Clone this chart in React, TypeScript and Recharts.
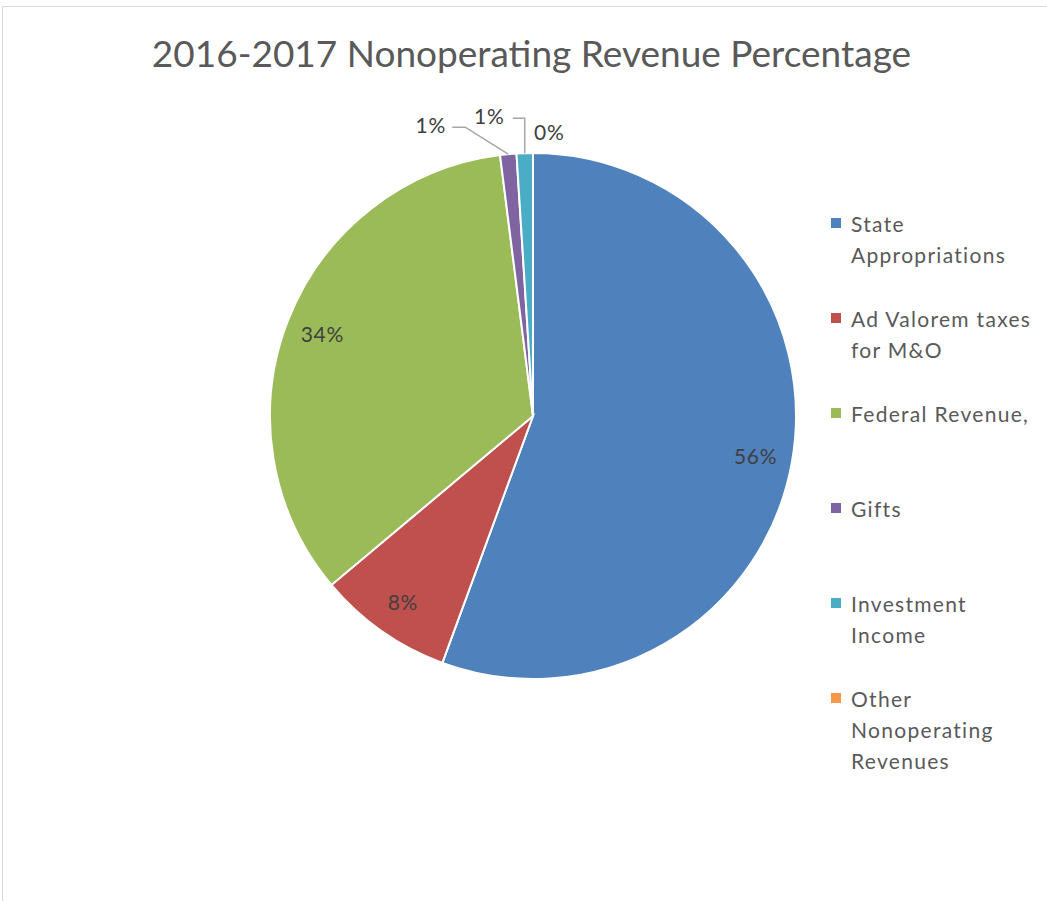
import { PieChart, Pie, Cell, Legend } from 'recharts';

const categories = [
  'State Appropriations',
  'Ad Valorem taxes for M&O',
  'Federal Revenue,',
  'Gifts',
  'Investment Income',
  'Other Nonoperating Revenues',
];
// legend text as it wraps in the original
const legendLines = [
  ['State', 'Appropriations'],
  ['Ad Valorem taxes', 'for M&O'],
  ['Federal Revenue,'],
  ['Gifts'],
  ['Investment', 'Income'],
  ['Other', 'Nonoperating', 'Revenues'],
];
const shares = [55.6, 8.3, 34.1, 1.0, 1.0, 0.0];
const colors = ['#4F81BD', '#C0504D', '#9BBB59', '#8064A2', '#4BACC6', '#F79646'];

const data = categories.map((name, i) => ({ name, value: shares[i] }));

const FONT = 'Lato, "Open Sans", sans-serif';
const RAD = Math.PI / 180;

const renderLabel = (props: any) => {
  const { cx, cy, midAngle, outerRadius, percent, index } = props;
  const txt = `${Math.round(percent * 100)}%`;
  const cos = Math.cos(-midAngle * RAD);
  const sin = Math.sin(-midAngle * RAD);
  const style = { fontFamily: FONT, fontSize: 21, fill: '#404040', letterSpacing: 0.8 };
  if (index < 3) {
    const r = outerRadius * 0.86;
    return (
      <text x={cx + r * cos} y={cy + r * sin} textAnchor="middle" dominantBaseline="central" style={style}>
        {txt}
      </text>
    );
  }
  const ex = cx + outerRadius * cos;
  const ey = cy + outerRadius * sin;
  if (index === 3) {
    return (
      <g>
        <polyline points={`${ex},${ey} ${ex - 43},${ey - 27} ${ex - 56},${ey - 27}`} fill="none" stroke="#A6A6A6" strokeWidth={1.5} />
        <text x={ex - 62} y={ey - 30} textAnchor="end" dominantBaseline="central" style={style}>{txt}</text>
      </g>
    );
  }
  if (index === 4) {
    return (
      <g>
        <polyline points={`${ex},${ey} ${ex},${ey - 35} ${ex - 12},${ey - 35}`} fill="none" stroke="#A6A6A6" strokeWidth={1.5} />
        <text x={ex - 20} y={ey - 38} textAnchor="end" dominantBaseline="central" style={style}>{txt}</text>
      </g>
    );
  }
  return (
    <text x={ex + 1} y={ey - 22} textAnchor="start" dominantBaseline="central" style={style}>{txt}</text>
  );
};

const LegendBox = () => (
  <div style={{ fontFamily: FONT, fontSize: 21, color: '#595959', letterSpacing: 1.3 }}>
    {legendLines.map((lines, i) => (
      <div key={i} style={{ position: 'relative', height: 95, paddingLeft: 31 }}>
        <div style={{ position: 'absolute', left: 11, top: 10, width: 10, height: 10, background: colors[i] }} />
        {lines.map((l, j) => (
          <div key={j} style={{ lineHeight: '31px', whiteSpace: 'nowrap' }}>{l}</div>
        ))}
      </div>
    ))}
  </div>
);

export default function App() {
  return (
    <div style={{ position: 'absolute', left: 0, top: 0, width: 1047, height: 901, overflow: 'hidden', background: '#fff' }}>
      <div style={{ position: 'absolute', left: 2, top: 6, width: 1200, height: 1000, border: '1px solid #D9D9D9' }} />
      <div style={{ position: 'absolute', left: 0, top: 28, width: 1063, textAlign: 'center', fontFamily: FONT, fontSize: 37, color: '#595959', lineHeight: '50px' }}>
        2016-2017 Nonoperating Revenue Percentage
      </div>
      <div style={{ position: 'absolute', left: 0, top: 0 }}>
        <PieChart width={1047} height={901} margin={{ top: 0, right: 0, bottom: 0, left: 0 }}>
          <Pie
            data={data}
            dataKey="value"
            nameKey="name"
            cx={533}
            cy={416}
            outerRadius={263}
            startAngle={90}
            endAngle={-270}
            stroke="#FFFFFF"
            strokeWidth={2}
            label={renderLabel}
            labelLine={false}
            isAnimationActive={false}
          >
            {data.map((d, i) => (
              <Cell key={d.name} fill={colors[i]} />
            ))}
          </Pie>
          <Legend
            layout="vertical"
            align="right"
            verticalAlign="top"
            content={() => <LegendBox />}
            wrapperStyle={{ position: 'absolute', left: 820, top: 208, width: 227 }}
          />
        </PieChart>
      </div>
    </div>
  );
}
